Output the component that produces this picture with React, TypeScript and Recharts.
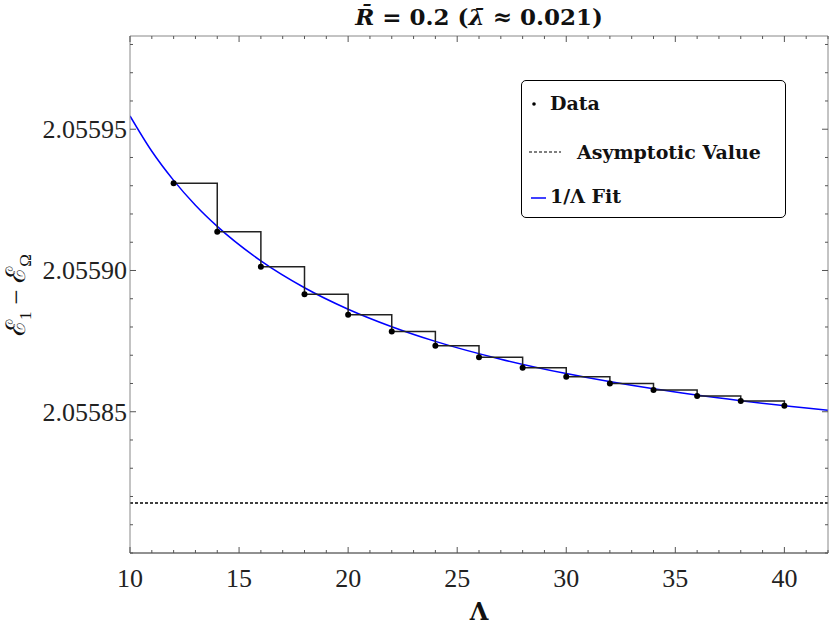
import { ComposedChart, Line, XAxis, YAxis, ReferenceLine } from "recharts";

// data points (Λ, E1 - EΩ)
const lambdas = [12, 14, 16, 18, 20, 22, 24, 26, 28, 30, 32, 34, 36, 38, 40];
const energies = [
  2.0559309, 2.0559137, 2.0559013, 2.0558916, 2.0558843, 2.0558784, 2.0558734,
  2.0558693, 2.0558656, 2.0558624, 2.05586, 2.0558577, 2.0558556, 2.0558538,
  2.0558521,
];

// 1/Λ fit curve
const fitLambdas = [10, 11, 12, 13, 14, 16, 18, 20, 22, 24, 27, 30, 34, 38, 42];
const fitValues = [
  2.0559547, 2.0559422, 2.0559319, 2.0559231, 2.0559156, 2.0559034, 2.0558939,
  2.0558863, 2.0558801, 2.0558749, 2.0558686, 2.0558635, 2.0558581, 2.0558539,
  2.0558505,
];

const asymptote = 2.0558177;

const xTicks = [
  10, 11, 12, 13, 14, 15, 16, 17, 18, 19, 20, 21, 22, 23, 24, 25, 26, 27, 28,
  29, 30, 31, 32, 33, 34, 35, 36, 37, 38, 39, 40, 41, 42,
];
const xLabels = [10, 15, 20, 25, 30, 35, 40];

const yTicks = [
  2.0558, 2.05581, 2.05582, 2.05583, 2.05584, 2.05585, 2.05586, 2.05587,
  2.05588, 2.05589, 2.0559, 2.05591, 2.05592, 2.05593, 2.05594, 2.05595,
  2.05596, 2.05597, 2.05598,
];
const yLabels = [2.05585, 2.0559, 2.05595];

const points = lambdas.map((l, i) => ({ lambda: l, value: energies[i] }));
const fit = fitLambdas.map((l, i) => ({ lambda: l, fit: fitValues[i] }));

const serif = "'Liberation Serif', serif";
const bold = "'DejaVu Serif', serif";
const frame = "#888";

const isLabel = (list: number[], v: number) =>
  list.some((t) => Math.abs(t - v) < 1e-9);

const BottomTick = (props: any) => {
  const { x, y, payload } = props;
  const major = isLabel(xLabels, payload.value);
  return (
    <g>
      <line x1={x} x2={x} y1={y} y2={y - (major ? 6 : 3)} stroke="#555" />
      {major && (
        <text
          x={x}
          y={y + 34}
          textAnchor="middle"
          fontFamily={serif}
          fontSize={26}
          fill="#222"
        >
          {payload.value}
        </text>
      )}
    </g>
  );
};

const TopTick = (props: any) => {
  const { x, y, payload } = props;
  const major = isLabel(xLabels, payload.value);
  return <line x1={x} x2={x} y1={y} y2={y + (major ? 6 : 3)} stroke="#555" />;
};

const LeftTick = (props: any) => {
  const { x, y, payload } = props;
  const major = isLabel(yLabels, payload.value);
  return (
    <g>
      <line x1={x} x2={x + (major ? 6 : 3)} y1={y} y2={y} stroke="#555" />
      {major && (
        <text
          x={x - 3}
          y={y + 9}
          textAnchor="end"
          fontFamily={serif}
          fontSize={26}
          fill="#222"
        >
          {payload.value.toFixed(5)}
        </text>
      )}
    </g>
  );
};

const RightTick = (props: any) => {
  const { x, y, payload } = props;
  const major = isLabel(yLabels, payload.value);
  return <line x1={x} x2={x - (major ? 6 : 3)} y1={y} y2={y} stroke="#555" />;
};

const Dot = (props: any) => {
  const { cx, cy, index } = props;
  return <circle key={`d-${index}`} cx={cx} cy={cy} r={3} fill="#000" />;
};

const LegendBox = () => (
  <div
    style={{
      position: "absolute",
      left: 521,
      top: 80,
      width: 263,
      height: 136,
      border: "1px solid #000",
      borderRadius: 5,
      background: "#fff",
    }}
  >
    <svg
      width={263}
      height={136}
      fontFamily={bold}
      fontWeight="bold"
      fontSize={19}
      fill="#111"
    >
      <circle cx={12} cy={23} r={1.8} fill="#000" />
      <text x={28} y={29}>Data</text>
      <line
        x1={7}
        x2={39}
        y1={71}
        y2={71}
        stroke="#000"
        strokeWidth={1.2}
        strokeDasharray="3 2"
      />
      <text x={55} y={78}>Asymptotic Value</text>
      <line x1={9} x2={24} y1={117} y2={117} stroke="#00f" strokeWidth={1.5} />
      <text x={28} y={122}>1/Λ Fit</text>
    </svg>
  </div>
);

const TitleLabel = (props: any) => {
  const vb = props.viewBox;
  return (
    <text
      x={vb.x + vb.width / 2}
      y={25}
      textAnchor="middle"
      fontFamily={bold}
      fontWeight="bold"
      fontSize={23}
      fill="#111"
    >
      <tspan fontStyle="italic">R̄</tspan>
      {" = 0.2 ("}
      <tspan fontStyle="italic">λ̄</tspan>
      {" ≈ 0.021)"}
    </text>
  );
};

const XLabel = (props: any) => {
  const vb = props.viewBox;
  return (
    <text
      x={vb.x + vb.width / 2}
      y={620}
      textAnchor="middle"
      fontFamily={bold}
      fontWeight="bold"
      fontSize={24}
      fill="#111"
    >
      Λ
    </text>
  );
};

const YLabel = () => (
  <text
    x={25}
    y={295}
    transform="rotate(-90 25 295)"
    textAnchor="middle"
    fontFamily={serif}
    fontSize={27}
    fill="#111"
  >
    ℰ
    <tspan fontSize={17} dy={6}>1</tspan>
    <tspan dy={-6}> − ℰ</tspan>
    <tspan fontSize={17} dy={6}>Ω</tspan>
  </text>
);

export default function App() {
  return (
    <div
      style={{
        position: "absolute",
        left: 0,
        top: 0,
        width: 830,
        height: 635,
        background: "#fff",
      }}
    >
      <ComposedChart
        width={830}
        height={635}
        margin={{ top: 35, right: 1, bottom: 0, left: 0 }}
      >
        <XAxis
          xAxisId="b"
          dataKey="lambda"
          type="number"
          domain={[10, 42]}
          ticks={xTicks}
          interval={0}
          allowDataOverflow
          height={82}
          tickSize={0}
          tickMargin={0}
          tick={<BottomTick />}
          axisLine={{ stroke: "#222" }}
          label={<XLabel />}
        />
        <XAxis
          xAxisId="t"
          orientation="top"
          dataKey="lambda"
          type="number"
          domain={[10, 42]}
          ticks={xTicks}
          interval={0}
          allowDataOverflow
          height={1}
          tickSize={0}
          tickMargin={0}
          tick={<TopTick />}
          axisLine={{ stroke: frame }}
          label={<TitleLabel />}
        />
        <YAxis
          yAxisId="l"
          type="number"
          domain={[2.0558, 2.055983]}
          ticks={yTicks}
          interval={0}
          allowDataOverflow
          width={130}
          tickSize={0}
          tickMargin={0}
          tick={<LeftTick />}
          axisLine={{ stroke: frame }}
          label={<YLabel />}
        />
        <YAxis
          yAxisId="r"
          orientation="right"
          type="number"
          domain={[2.0558, 2.055983]}
          ticks={yTicks}
          interval={0}
          allowDataOverflow
          width={1}
          tickSize={0}
          tickMargin={0}
          tick={<RightTick />}
          axisLine={{ stroke: frame }}
        />
        <ReferenceLine
          xAxisId="b"
          yAxisId="l"
          y={asymptote}
          stroke="#000"
          strokeWidth={1.3}
          strokeDasharray="3 2"
        />
        <Line
          xAxisId="b"
          yAxisId="l"
          data={fit}
          dataKey="fit"
          type="monotone"
          stroke="#0000ff"
          strokeWidth={1.5}
          dot={false}
          isAnimationActive={false}
        />
        <Line
          xAxisId="b"
          yAxisId="l"
          data={points}
          dataKey="value"
          type="stepAfter"
          stroke="#222"
          strokeWidth={1.5}
          dot={<Dot />}
          isAnimationActive={false}
        />
      </ComposedChart>
      <LegendBox />
    </div>
  );
}
